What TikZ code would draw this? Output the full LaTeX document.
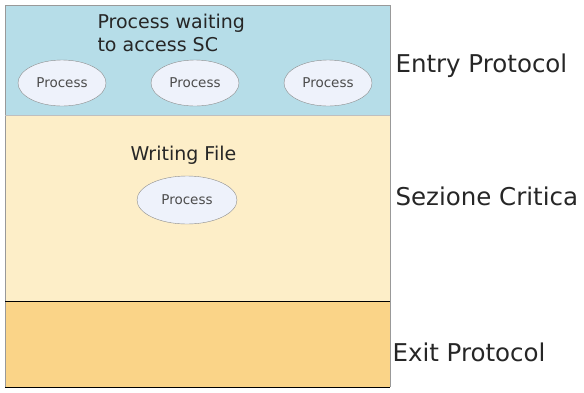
\documentclass[tikz,border=0pt]{standalone}
\usepackage{fontspec}
\setmainfont{DejaVu Sans}
\usepackage{xcolor}
\usepackage{tikz}
\usetikzlibrary{positioning,shapes.geometric}

\definecolor{entryblue}{HTML}{B6DDE8}
\definecolor{sezyellow}{HTML}{FDEEC8}
\definecolor{exitorange}{HTML}{FAD488}
\definecolor{procfill}{HTML}{EEF2FB}

\begin{document}
\begin{tikzpicture}[
  x=1pt, y=-1pt,
  every node/.style={align=left, text=black!85},
  proc/.style={ellipse, draw=black!45, fill=procfill, minimum width=88pt,
               minimum height=46pt, inner sep=0pt, font=\fontsize{13.5}{16}\selectfont,
               text=black!70},
  title/.style={font=\fontsize{19}{23}\selectfont, anchor=west},
  side/.style={font=\fontsize{24.5}{28}\selectfont, anchor=west},
]
\useasboundingbox (0,0) rectangle (584,392);

% the three bands
\fill[entryblue]  (5,5)   rectangle (390,115);
\fill[sezyellow]  (5,115) rectangle (390,301);
\fill[exitorange] (5,301) rectangle (390,387);
\draw[black!40] (5,387) -- (5,5) -- (390,5) -- (390,387);
\draw[black!25] (5,115) -- (390,115);
\draw[black] (5,301) -- (390,301);
\draw[black] (5,387) -- (390,387);

% entry protocol
\node[title] (wait) at (94,33) {Process waiting\\to access SC};
\foreach \x/\n in {62/1,195/2,328/3}{
  \node[proc] (P\n) at (\x,83) {Process};
}

% critical section
\node[title] (write) at (127,155) {Writing File};
\node[proc, minimum width=100pt, minimum height=48pt] (Pw) at (187,200) {Process};

% labels
\node[side] (entry) at (392,66)  {Entry Protocol};
\node[side] (sez)   at (392,196) {Sezione Critica};
\node[side] (exit)  at (389,352) {Exit Protocol};

\end{tikzpicture}
\end{document}
